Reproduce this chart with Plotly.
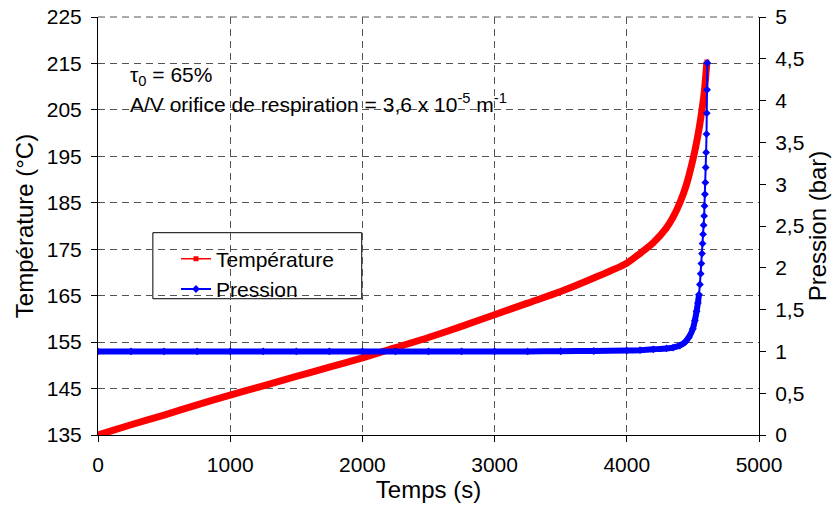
import plotly.graph_objects as go

# ---- data ----
temps_T = [0, 250, 500, 750, 1000, 1250, 1500, 1750, 2000, 2250, 2500, 2750, 3000,
           3250, 3500, 3750, 4000, 4100, 4200, 4300, 4350, 4400, 4450, 4500, 4525,
           4550, 4570, 4585, 4595, 4602, 4606]
temperature = [135.0, 137.2, 139.3, 141.5, 143.6, 145.6, 147.6, 149.6, 151.6, 153.8,
               156.0, 158.4, 160.9, 163.4, 165.9, 168.8, 172.0, 174.1, 176.4, 179.6,
               181.9, 184.9, 188.8, 194.3, 197.6, 201.5, 205.3, 208.6, 211.6, 214.0, 215.3]

temps_P = [0, 250, 500, 750, 1000, 1250, 1500, 1750, 2000, 2250, 2500, 2750, 3000,
           3250, 3500, 3750, 4000, 4100, 4200, 4300, 4350, 4400, 4440, 4470, 4500,
           4515, 4528, 4538, 4546, 4553, 4559, 4564, 4569, 4573, 4577, 4581, 4585,
           4588, 4591, 4594, 4597, 4600, 4603, 4605, 4607, 4609]
pression = [1.0, 1.0, 1.0, 1.0, 1.0, 1.0, 1.0, 1.0, 1.0, 1.0, 1.0, 1.0, 1.0,
            1.0, 1.002, 1.005, 1.01, 1.015, 1.025, 1.035, 1.045, 1.07, 1.11, 1.17, 1.27,
            1.37, 1.48, 1.58, 1.68, 1.80, 1.93, 2.05, 2.17, 2.29, 2.40, 2.51, 2.62,
            2.74, 2.88, 3.02, 3.20, 3.38, 3.60, 3.85, 4.13, 4.45]

x_ticks = [0, 1000, 2000, 3000, 4000, 5000]
y_ticks = [135, 145, 155, 165, 175, 185, 195, 205, 215, 225]
y2_ticks = [0, 0.5, 1, 1.5, 2, 2.5, 3, 3.5, 4, 4.5, 5]
y2_labels = ["0", "0,5", "1", "1,5", "2", "2,5", "3", "3,5", "4", "4,5", "5"]

FONT = "Liberation Sans, Arial, sans-serif"
RED = "#FF0000"
BLUE = "#0000FF"
GRID = "#555555"

# dense (overlapping-marker) part of the pressure curve
band_idx = [i for i, p in enumerate(pression) if p <= 1.75]
band_t = [temps_P[i] for i in band_idx]
band_p = [pression[i] for i in band_idx]

fig = go.Figure()

fig.add_trace(go.Scatter(x=temps_T, y=temperature, mode="lines",
                         line=dict(color=RED, width=7, shape="spline", smoothing=0.7),
                         showlegend=False, hoverinfo="skip", yaxis="y"))
fig.add_trace(go.Scatter(x=temps_T, y=temperature, mode="lines+markers", name="Température",
                         line=dict(color=RED, width=1.5),
                         marker=dict(symbol="square", size=5, color=RED), yaxis="y"))
fig.add_trace(go.Scatter(x=band_t, y=band_p, mode="lines",
                         line=dict(color=BLUE, width=6, shape="spline", smoothing=0.5),
                         showlegend=False, hoverinfo="skip", yaxis="y2"))
fig.add_trace(go.Scatter(x=temps_P, y=pression, mode="lines+markers", name="Pression",
                         line=dict(color=BLUE, width=2),
                         marker=dict(symbol="diamond", size=6, color=BLUE), yaxis="y2"))

grid = dict(showgrid=True, gridcolor=GRID, gridwidth=1, griddash="7px,5px")
TICKF = dict(family=FONT, size=21, color="black")
TITLEF = dict(family=FONT, size=24, color="black")

fig.update_layout(
    width=840, height=510,
    margin=dict(l=98, r=81, t=17, b=75, autoexpand=False),
    paper_bgcolor="white", plot_bgcolor="white",
    font=dict(family=FONT, size=21, color="black"),
    xaxis=dict(range=[0, 5000], tickvals=x_ticks, ticks="outside", ticklen=6,
               tickcolor="black", showline=True, linecolor="black", linewidth=1,
               zeroline=False, ticklabelstandoff=5, automargin=False, tickfont=TICKF,
               ticklabeloverflow="allow",
               title=dict(text="Temps (s)", font=TITLEF, standoff=2), **grid),
    yaxis=dict(range=[135, 225], tickvals=y_ticks, ticks="outside", ticklen=6,
               tickcolor="black", showline=True, linecolor="black", linewidth=1,
               zeroline=False, ticklabelstandoff=5, automargin=False, tickfont=TICKF,
               ticklabeloverflow="allow",
               title=dict(text="Température (°C)", font=TITLEF, standoff=6), **grid),
    yaxis2=dict(range=[0, 5], tickvals=y2_ticks, ticktext=y2_labels, overlaying="y",
                side="right", ticks="outside", ticklen=6, tickcolor="black",
                showline=True, linecolor="black", linewidth=1, showgrid=False,
                zeroline=False, ticklabelstandoff=5, automargin=False, tickfont=TICKF,
                ticklabeloverflow="allow",
                title=dict(text="Pression (bar)", font=TITLEF, standoff=4)),
    legend=dict(x=0.118, y=0.47, xanchor="left", yanchor="top",
                bgcolor="rgba(0,0,0,0)", borderwidth=0,
                font=dict(family=FONT, size=21), tracegroupgap=0, itemwidth=30),
    showlegend=True,
    shapes=[
        # dashed top border of the plot area (gridline at the top of the range)
        dict(type="line", xref="paper", yref="paper", x0=0, x1=1, y0=1, y1=1,
             line=dict(color=GRID, width=1, dash="7px,5px"), layer="below"),
        dict(type="rect", xref="paper", yref="paper", x0=0.083, x1=0.399,
             y0=0.326, y1=0.484, fillcolor="white", line=dict(color="black", width=1),
             layer="below"),
        dict(type="rect", xref="paper", yref="paper", x0=0.036, x1=0.625,
             y0=0.76, y1=0.91, fillcolor="white", line=dict(width=0),
             layer="below"),
    ],
    annotations=[
        dict(text="τ<sub>0</sub> = 65%", xref="paper", yref="paper", x=0.045, y=0.859,
             xanchor="left", yanchor="middle", showarrow=False,
             font=dict(family=FONT, size=21)),
        dict(text="A/V orifice de respiration = 3,6 x 10<sup>-5</sup> m<sup>-1</sup>",
             xref="paper", yref="paper", x=0.045, y=0.795, xanchor="left",
             yanchor="middle", showarrow=False, font=dict(family=FONT, size=21)),
    ],
)

# remove the browser's default 8px page margin so the figure sits at (0, 0)
fig.write_html("out.html", config={"displayModeBar": False},
               post_script="document.body.style.margin='0';document.body.style.padding='0';")
